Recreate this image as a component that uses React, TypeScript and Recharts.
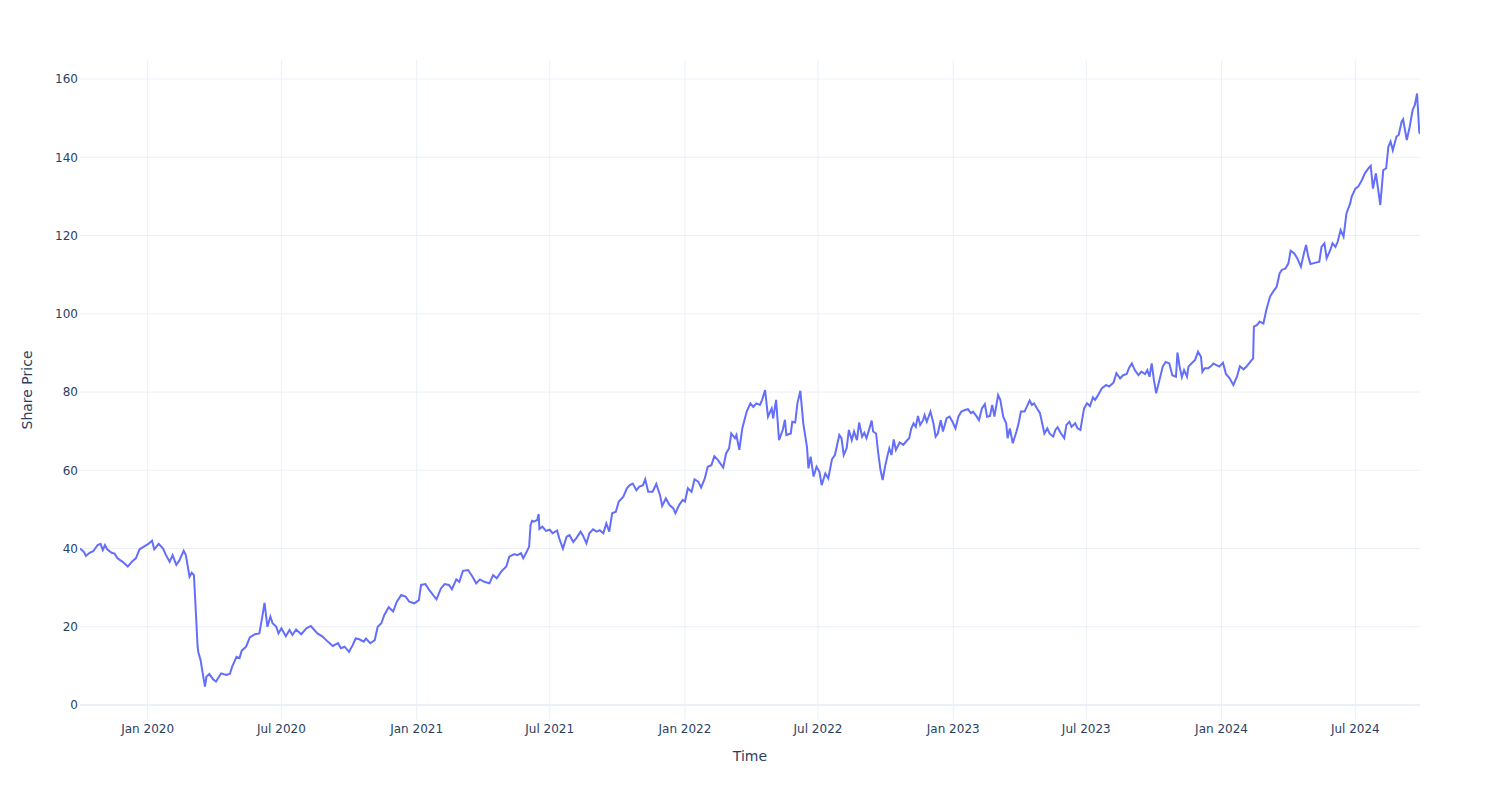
import { LineChart, Line, XAxis, YAxis, CartesianGrid, ReferenceLine, Label } from 'recharts';

// share price, read off the chart roughly once or twice a week
const dates2019 = ['2019-10-01', '2019-10-06', '2019-10-09', '2019-10-14', '2019-10-19', '2019-10-25', '2019-10-29', '2019-11-01', '2019-11-04', '2019-11-07', '2019-11-13', '2019-11-17', '2019-11-21', '2019-11-28', '2019-12-05', '2019-12-12', '2019-12-16', '2019-12-21', '2019-12-28'];
const prices2019 = [40.0, 39.2, 38.1, 38.9, 39.3, 40.9, 41.2, 39.6, 40.9, 39.8, 38.9, 38.7, 37.5, 36.6, 35.4, 36.9, 37.5, 39.8, 40.6];

const dates2020 = [
  '2020-01-02', '2020-01-07', '2020-01-10', '2020-01-16', '2020-01-22', '2020-01-26', '2020-01-31',
  '2020-02-04', '2020-02-09', '2020-02-13', '2020-02-19', '2020-02-22', '2020-02-27',
  '2020-03-01', '2020-03-04', '2020-03-06', '2020-03-09', '2020-03-10', '2020-03-13', '2020-03-16', '2020-03-19', '2020-03-21', '2020-03-25', '2020-03-30',
  '2020-04-03', '2020-04-10', '2020-04-17', '2020-04-22', '2020-04-25',
  '2020-05-01', '2020-05-05', '2020-05-08', '2020-05-14', '2020-05-19', '2020-05-26',
  '2020-06-01', '2020-06-05', '2020-06-08', '2020-06-12', '2020-06-16', '2020-06-19', '2020-06-24', '2020-06-27',
  '2020-07-01', '2020-07-07', '2020-07-12', '2020-07-16', '2020-07-21', '2020-07-28',
  '2020-08-04', '2020-08-10', '2020-08-19', '2020-08-26',
  '2020-09-02', '2020-09-09', '2020-09-16', '2020-09-20', '2020-09-25',
  '2020-10-01', '2020-10-06', '2020-10-10', '2020-10-15', '2020-10-21', '2020-10-24', '2020-10-30',
  '2020-11-05', '2020-11-09', '2020-11-14', '2020-11-18', '2020-11-24', '2020-11-30',
  '2020-12-05', '2020-12-11', '2020-12-17', '2020-12-22', '2020-12-29',
];
const prices2020 = [
  41.2, 42.0, 39.8, 41.2, 40.0, 38.3, 36.6,
  38.3, 35.8, 36.9, 39.4, 38.3, 32.8,
  33.8, 33.2, 26.0, 14.9, 13.5, 11.5, 8.1, 4.7, 7.2, 7.9, 6.6,
  6.0, 8.1, 7.7, 8.0, 9.8,
  12.3, 12.0, 13.9, 14.9, 17.3, 18.1,
  18.3, 22.6, 26.1, 20.0, 22.6, 20.9, 20.0, 18.3,
  19.6, 17.6, 19.2, 17.9, 19.3, 18.1,
  19.6, 20.2, 18.3, 17.5,
  16.2, 15.1, 15.8, 14.5, 14.9,
  13.6, 15.3, 17.0, 16.8, 16.2, 17.0, 15.8,
  16.6, 20.0, 20.9, 23.0, 25.0, 23.9,
  26.4, 28.1, 27.7, 26.4, 26.0,
];

const dates2021 = [
  '2021-01-04', '2021-01-07', '2021-01-13', '2021-01-18', '2021-01-28',
  '2021-02-03', '2021-02-08', '2021-02-14', '2021-02-18', '2021-02-24', '2021-02-28',
  '2021-03-05', '2021-03-12', '2021-03-18', '2021-03-23', '2021-03-28',
  '2021-04-03', '2021-04-10', '2021-04-15', '2021-04-20', '2021-04-26',
  '2021-05-03', '2021-05-07', '2021-05-14', '2021-05-18', '2021-05-23', '2021-05-26', '2021-05-30',
  '2021-06-03', '2021-06-05', '2021-06-07', '2021-06-10', '2021-06-14', '2021-06-16', '2021-06-17', '2021-06-21', '2021-06-26',
  '2021-07-01', '2021-07-05', '2021-07-11', '2021-07-14', '2021-07-19', '2021-07-24', '2021-07-28',
  '2021-08-02', '2021-08-06', '2021-08-12', '2021-08-15', '2021-08-20', '2021-08-24', '2021-08-29',
  '2021-09-03', '2021-09-07', '2021-09-12', '2021-09-16', '2021-09-20', '2021-09-24', '2021-09-29',
  '2021-10-03', '2021-10-09', '2021-10-14', '2021-10-18', '2021-10-22', '2021-10-27', '2021-10-31',
  '2021-11-05', '2021-11-08', '2021-11-12', '2021-11-18', '2021-11-23', '2021-11-28',
  '2021-12-01', '2021-12-06', '2021-12-11', '2021-12-16', '2021-12-19', '2021-12-24', '2021-12-29',
];
const prices2021 = [
  26.8, 30.7, 30.9, 29.4, 27.0,
  29.8, 30.9, 30.7, 29.6, 32.1, 31.5,
  34.3, 34.5, 32.8, 31.1, 32.1,
  31.5, 31.1, 33.2, 32.4, 34.1,
  35.4, 37.9, 38.6, 38.3, 38.8, 37.5, 38.9,
  40.5, 46.0, 47.1, 46.9, 47.3, 48.8, 45.0, 45.6, 44.5,
  44.8, 43.9, 44.6, 42.6, 40.0, 43.0, 43.4,
  41.7, 42.6, 44.3, 43.4, 41.3, 43.9, 44.9,
  44.3, 44.7, 43.9, 46.4, 44.3, 49.0, 49.4,
  52.0, 53.2, 55.4, 56.2, 56.6, 54.9, 55.8,
  56.2, 57.7, 54.5, 54.5, 56.5, 53.7,
  50.9, 52.8, 51.1, 50.3, 49.0, 51.1, 52.4,
];

const dates2022 = [
  '2022-01-01', '2022-01-05', '2022-01-10', '2022-01-14', '2022-01-19', '2022-01-23', '2022-01-28',
  '2022-02-01', '2022-02-06', '2022-02-10', '2022-02-15', '2022-02-22', '2022-02-26',
  '2022-03-02', '2022-03-05', '2022-03-10', '2022-03-12', '2022-03-16', '2022-03-20', '2022-03-26', '2022-03-31',
  '2022-04-04', '2022-04-08', '2022-04-13', '2022-04-16', '2022-04-20', '2022-04-24', '2022-04-29',
  '2022-05-01', '2022-05-05', '2022-05-09', '2022-05-14', '2022-05-17', '2022-05-19', '2022-05-25', '2022-05-27', '2022-05-31',
  '2022-06-03', '2022-06-07', '2022-06-11', '2022-06-16', '2022-06-18', '2022-06-21', '2022-06-25', '2022-06-29',
  '2022-07-03', '2022-07-06', '2022-07-11', '2022-07-15', '2022-07-20', '2022-07-24', '2022-07-30',
  '2022-08-02', '2022-08-05', '2022-08-09', '2022-08-12', '2022-08-16', '2022-08-19', '2022-08-23', '2022-08-26', '2022-08-30',
  '2022-09-02', '2022-09-05', '2022-09-09', '2022-09-12', '2022-09-14', '2022-09-18', '2022-09-21', '2022-09-24', '2022-09-27', '2022-09-30',
  '2022-10-03', '2022-10-06', '2022-10-09', '2022-10-12', '2022-10-15', '2022-10-20', '2022-10-25', '2022-10-30',
  '2022-11-02', '2022-11-05', '2022-11-08', '2022-11-11', '2022-11-14', '2022-11-17', '2022-11-21', '2022-11-23', '2022-11-26',
  '2022-12-01', '2022-12-05', '2022-12-08', '2022-12-11', '2022-12-15', '2022-12-18', '2022-12-23', '2022-12-27', '2022-12-31',
];
const prices2022 = [
  52.0, 55.4, 54.5, 57.7, 57.1, 55.6, 57.9,
  60.9, 61.3, 63.6, 62.6, 60.7, 64.3,
  65.6, 69.4, 68.2, 69.0, 65.2, 70.7, 75.0, 77.1,
  76.2, 77.1, 76.7, 78.0, 80.5, 73.7, 75.8,
  73.3, 78.0, 67.7, 70.3, 72.9, 69.0, 69.4, 72.4, 72.2,
  77.1, 80.3, 72.0, 66.0, 60.5, 63.5, 58.4, 60.9,
  59.6, 56.2, 59.2, 57.9, 62.8, 63.9, 69.0,
  68.2, 63.9, 65.6, 70.3, 67.7, 69.9, 67.7, 72.2, 68.6,
  69.6, 68.2, 70.7, 72.7, 69.9, 69.4, 64.3, 60.1, 57.5, 60.7,
  63.3, 65.6, 63.9, 67.9, 65.2, 67.1, 66.5, 67.6,
  68.2, 70.7, 72.0, 71.1, 73.9, 71.6, 72.8, 74.1, 72.4,
  75.0, 72.0, 68.6, 69.4, 72.8, 69.9, 73.3, 73.7, 72.4,
];

const dates2023 = [
  '2023-01-04', '2023-01-08', '2023-01-12', '2023-01-17', '2023-01-21', '2023-01-25', '2023-01-28',
  '2023-02-02', '2023-02-05', '2023-02-09', '2023-02-13', '2023-02-16', '2023-02-20', '2023-02-23', '2023-02-26',
  '2023-03-03', '2023-03-06', '2023-03-10', '2023-03-14', '2023-03-16', '2023-03-19', '2023-03-23', '2023-03-28', '2023-03-31',
  '2023-04-03', '2023-04-08', '2023-04-11', '2023-04-15', '2023-04-18', '2023-04-21', '2023-04-25', '2023-04-29',
  '2023-05-02', '2023-05-05', '2023-05-09', '2023-05-12', '2023-05-17', '2023-05-20', '2023-05-23', '2023-05-27',
  '2023-06-01', '2023-06-04', '2023-06-08', '2023-06-11', '2023-06-16', '2023-06-19', '2023-06-23', '2023-06-28',
  '2023-07-02', '2023-07-06', '2023-07-10', '2023-07-13', '2023-07-17', '2023-07-22', '2023-07-28',
  '2023-08-01', '2023-08-07', '2023-08-11', '2023-08-16', '2023-08-20', '2023-08-25', '2023-08-28',
  '2023-09-01', '2023-09-05', '2023-09-10', '2023-09-14', '2023-09-19', '2023-09-22', '2023-09-25', '2023-09-28',
  '2023-10-01', '2023-10-04', '2023-10-08', '2023-10-13', '2023-10-17', '2023-10-22', '2023-10-26', '2023-10-31',
  '2023-11-02', '2023-11-05', '2023-11-08', '2023-11-11', '2023-11-15', '2023-11-17', '2023-11-21', '2023-11-26', '2023-11-30',
  '2023-12-04', '2023-12-06', '2023-12-09', '2023-12-14', '2023-12-17', '2023-12-21', '2023-12-25', '2023-12-29',
];
const prices2023 = [
  70.7, 73.7, 75.0, 75.4, 75.6, 74.6, 75.0,
  73.7, 72.8, 75.8, 76.9, 73.7, 73.9, 76.7, 73.7,
  79.2, 78.0, 73.7, 72.0, 68.2, 70.7, 66.9, 69.9, 72.0,
  75.0, 75.0, 76.2, 77.8, 76.7, 77.1, 75.8, 74.6,
  72.0, 69.4, 70.7, 69.4, 68.6, 70.3, 71.0, 69.6,
  68.2, 71.6, 72.4, 71.1, 72.0, 70.7, 70.3, 75.8,
  77.1, 76.4, 78.6, 78.0, 79.2, 80.9, 81.8,
  81.4, 82.4, 84.8, 83.5, 84.3, 84.6, 86.1,
  87.3, 85.6, 84.3, 85.2, 84.6, 85.6, 83.9, 87.3,
  83.1, 79.7, 82.6, 86.5, 87.7, 87.3, 84.3, 83.9,
  90.1, 86.5, 83.8, 85.6, 83.9, 86.5, 87.3, 88.2, 90.3,
  89.0, 85.2, 86.1, 86.1, 86.5, 87.3, 86.9, 86.5,
];

const dates2024 = [
  '2024-01-03', '2024-01-07', '2024-01-12', '2024-01-17', '2024-01-22', '2024-01-26', '2024-01-31',
  '2024-02-04', '2024-02-09', '2024-02-13', '2024-02-14', '2024-02-18', '2024-02-22', '2024-02-27',
  '2024-03-02', '2024-03-07', '2024-03-11', '2024-03-16', '2024-03-20', '2024-03-23', '2024-03-28',
  '2024-04-01', '2024-04-04', '2024-04-09', '2024-04-13', '2024-04-18', '2024-04-22', '2024-04-25', '2024-04-28',
  '2024-05-01', '2024-05-07', '2024-05-13', '2024-05-16', '2024-05-20', '2024-05-23', '2024-05-28', '2024-05-31',
  '2024-06-04', '2024-06-07', '2024-06-11', '2024-06-15', '2024-06-19', '2024-06-24', '2024-06-26',
  '2024-07-01', '2024-07-05', '2024-07-10', '2024-07-14', '2024-07-19', '2024-07-22', '2024-07-25', '2024-07-29',
  '2024-08-04', '2024-08-08', '2024-08-12', '2024-08-15', '2024-08-18', '2024-08-21', '2024-08-26', '2024-08-29',
  '2024-09-02', '2024-09-04', '2024-09-09', '2024-09-13', '2024-09-17', '2024-09-20', '2024-09-23', '2024-09-26', '2024-09-27',
];
const prices2024 = [
  87.5, 84.6, 83.5, 81.8, 83.9, 86.6, 85.8,
  86.5, 87.7, 88.6, 96.7, 97.1, 98.0, 97.5,
  101.0, 104.4, 105.6, 106.9, 110.3, 111.2, 111.6,
  112.9, 116.1, 115.4, 114.2, 112.0, 115.4, 117.6, 114.6,
  112.7, 113.0, 113.3, 117.1, 118.0, 114.2, 116.3, 118.0,
  117.1, 118.4, 121.4, 119.7, 125.7, 128.2, 129.9,
  132.0, 132.5, 134.2, 135.9, 137.2, 137.8, 132.0, 135.9,
  127.8, 136.7, 137.2, 142.7, 144.0, 141.8, 145.3, 145.7,
  149.1, 149.7, 144.4, 147.8, 152.1, 153.4, 156.3, 146.5, 146.0,
];

const xTickDates = ['2020-01-01', '2020-07-01', '2021-01-01', '2021-07-01', '2022-01-01', '2022-07-01', '2023-01-01', '2023-07-01', '2024-01-01', '2024-07-01'];
const xTickLabels = ['Jan 2020', 'Jul 2020', 'Jan 2021', 'Jul 2021', 'Jan 2022', 'Jul 2022', 'Jan 2023', 'Jul 2023', 'Jan 2024', 'Jul 2024'];
const yTicks = [0, 20, 40, 60, 80, 100, 120, 140, 160];

const allDates = [...dates2019, ...dates2020, ...dates2021, ...dates2022, ...dates2023, ...dates2024];
const allPrices = [...prices2019, ...prices2020, ...prices2021, ...prices2022, ...prices2023, ...prices2024];
const data = allDates.map((d, i) => ({ t: Date.parse(d), price: allPrices[i] }));
const xTicks = xTickDates.map(d => Date.parse(d));

const textColor = '#2a3f5f';
const gridColor = '#EBF0F8';
const font = '"DejaVu Sans", Verdana, sans-serif';

function YTitle({ viewBox }: any) {
  const cx = viewBox.x + 32;
  const cy = viewBox.y + viewBox.height / 2;
  return (
    <text x={cx} y={cy} transform={`rotate(-90 ${cx} ${cy})`} textAnchor="middle" fill={textColor} fontSize={14} fontFamily={font}>
      Share Price
    </text>
  );
}

function XTitle({ viewBox }: any) {
  const cx = viewBox.x + viewBox.width / 2;
  return (
    <text x={cx} y={viewBox.y + 41} textAnchor="middle" fill={textColor} fontSize={14} fontFamily={font}>
      Time
    </text>
  );
}

export default function App() {
  return (
    <div style={{ position: 'absolute', left: 0, top: 0, width: 1500, height: 800, background: '#fff' }}>
      <LineChart width={1500} height={800} data={data} margin={{ top: 60, right: 80, bottom: 0, left: 0 }}>
        <CartesianGrid stroke={gridColor} horizontalValues={yTicks} verticalValues={xTicks} />
        <XAxis
          dataKey="t"
          type="number"
          domain={[Date.parse(allDates[0]), Date.parse(allDates[allDates.length - 1])]}
          allowDataOverflow
          ticks={xTicks}
          tickFormatter={(v) => xTickLabels[xTicks.indexOf(v)] ?? ''}
          tick={{ fill: textColor, fontSize: 12, fontFamily: font }}
          axisLine={false}
          tickLine={false}
          tickSize={0}
          tickMargin={4}
          height={80}
        >
          <Label content={<XTitle />} />
        </XAxis>
        <YAxis
          type="number"
          domain={[-3.83, 164.86]}
          allowDataOverflow
          ticks={yTicks}
          tick={{ fill: textColor, fontSize: 12, fontFamily: font }}
          axisLine={false}
          tickLine={false}
          tickSize={0}
          tickMargin={2}
          width={80}
        >
          <Label content={<YTitle />} />
        </YAxis>
        <ReferenceLine y={0} stroke={gridColor} strokeWidth={2} />
        <Line
          type="linear"
          dataKey="price"
          stroke="#636efa"
          strokeWidth={2}
          dot={false}
          isAnimationActive={false}
        />
      </LineChart>
    </div>
  );
}
